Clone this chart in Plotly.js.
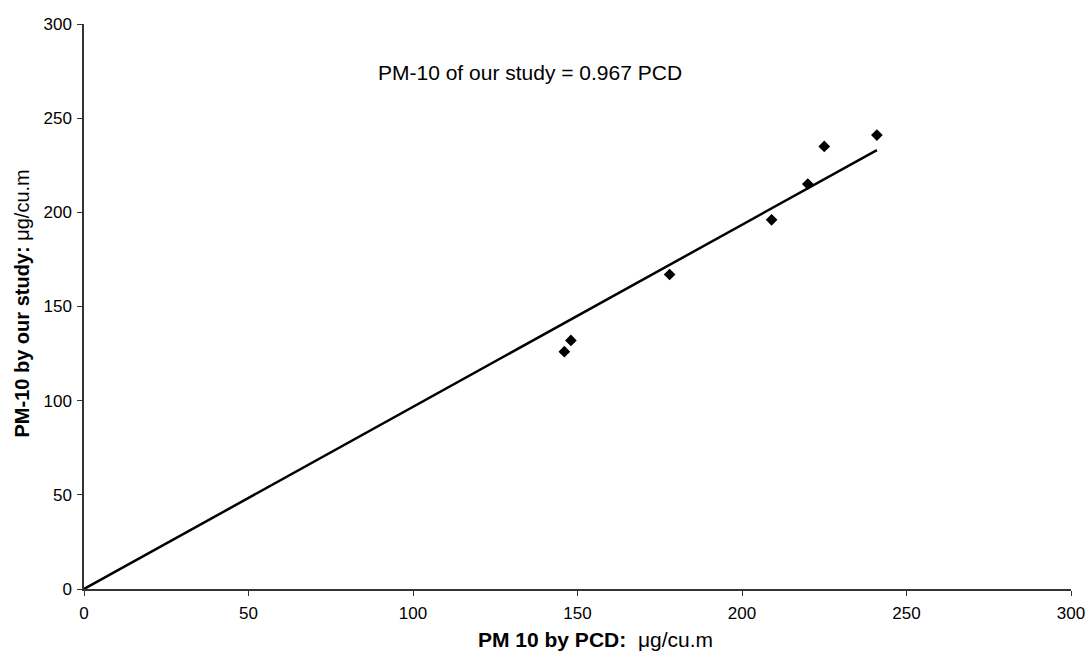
<!DOCTYPE html>
<html><head><meta charset="utf-8">
<script src="https://cdn.plot.ly/plotly-3.0.1.min.js"></script>
<style>html,body{margin:0;padding:0;background:#fff}</style>
</head><body><div id="chart" style="width:1087px;height:658px"></div>
<script>
const pcd = [146, 148, 178, 209, 220, 225, 241];
const ourStudy = [126, 132, 167, 196, 215, 235, 241];
const slope = 0.967;
const fitX = [0, 241];
const fitY = fitX.map(v => v * slope);
const tickVals = [0, 50, 100, 150, 200, 250, 300];
const xTitle = '<b>PM 10 by PCD:  </b>μg/cu.m';
const yTitle = '<b>PM-10 by our study: </b>μg/cu.m';
const eqText = 'PM-10 of our study = 0.967 PCD';

const F = 'Arial';
const traces = [
  {x: fitX, y: fitY, mode: 'lines', line: {color: '#000', width: 2.5}, hoverinfo: 'skip'},
  {x: pcd, y: ourStudy, mode: 'markers', marker: {symbol: 'diamond', size: 9, color: '#000'}}
];
function axis(standoff) {
  return {
    range: [0, 300], tickmode: 'array', tickvals: tickVals, ticktext: tickVals.map(String),
    showgrid: false, zeroline: false,
    showline: true, linecolor: '#333', linewidth: 1.5, ticks: 'outside', ticklen: 5,
    tickcolor: '#333', ticklabelstandoff: standoff,
    tickfont: {family: F, size: 17, color: '#000'}
  };
}
const layout = {
  width: 1087, height: 658, showlegend: false,
  font: {family: F, size: 17, color: '#000'},
  margin: {l: 84, r: 16, t: 24, b: 69},
  paper_bgcolor: '#fff', plot_bgcolor: '#fff',
  xaxis: axis(3),
  yaxis: axis(2),
  annotations: [
    {x: 135.5, y: 274.5, xref: 'x', yref: 'y', text: eqText, showarrow: false, font: {family: F, size: 21, color: '#000'}},
    {x: 0.518, y: -0.09, xref: 'paper', yref: 'paper', xanchor: 'center', yanchor: 'middle', text: xTitle, showarrow: false, font: {family: F, size: 21, color: '#000'}},
    {x: -0.063, y: 0.505, xref: 'paper', yref: 'paper', xanchor: 'center', yanchor: 'middle', textangle: -90, text: yTitle, showarrow: false, font: {family: F, size: 20, color: '#000'}}
  ]
};
Plotly.newPlot('chart', traces, layout, {displayModeBar: false});
</script></body></html>
